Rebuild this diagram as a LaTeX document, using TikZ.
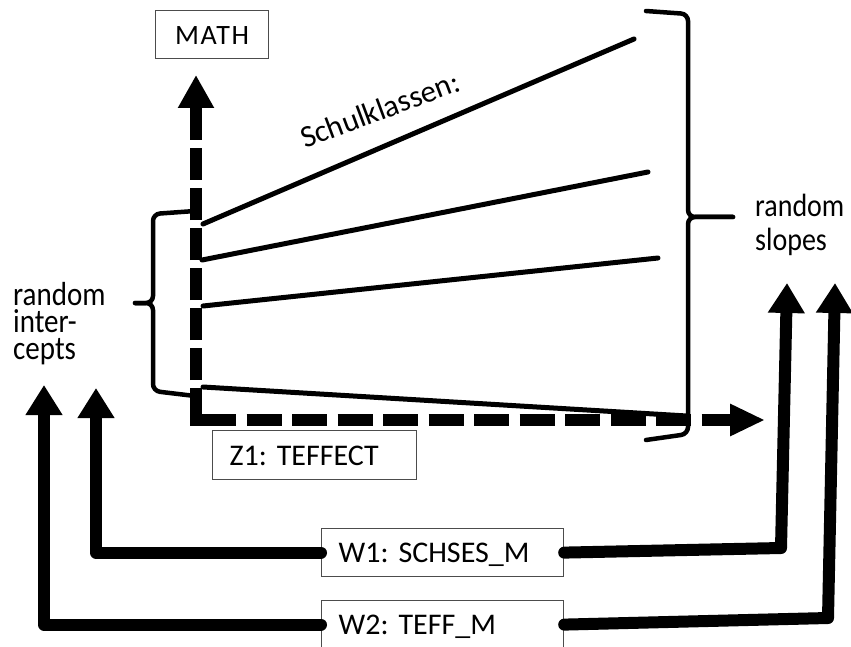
\documentclass[tikz,border=0pt]{standalone}
\usepackage{fontspec}
\usepackage{graphicx}
\setmainfont{Carlito}
\usetikzlibrary{arrows.meta}
\newcommand{\tallt}[1]{\scalebox{1}[1.15]{#1}}
\begin{document}
\frenchspacing
\begin{tikzpicture}[x=1pt,y=-1pt,
  fan/.style={line width=5pt, line cap=round},
  brace/.style={line width=4.5pt, rounded corners=7pt, line cap=round},
  conn/.style={line width=12pt, line join=round, line cap=round, -{Triangle[length=30pt,width=35pt]}},
  box/.style={draw=black!70, line width=1.2pt, rectangle, inner xsep=17pt, inner ysep=0pt,
    anchor=north west, align=left, text height=20pt, text depth=0pt,
    font=\fontsize{30}{36}\selectfont\frenchspacing},
  lbl/.style={font=\fontsize{29}{30}\selectfont, inner sep=0pt, anchor=base west}
]
\useasboundingbox (0,0) rectangle (851,647);
\fill[white] (0,0) rectangle (851,647);

% boxes
\node[box, minimum width=113pt, minimum height=48pt, align=center, inner xsep=0pt,
      text width=113pt, font=\fontsize{28}{34}\selectfont\addfontfeature{LetterSpace=6}] (math) at (155,10) {MATH};
\node[box, minimum width=204pt, minimum height=49pt, text width=170pt] (z1) at (212,430) {Z1: TEFFECT};
\node[box, minimum width=242pt, minimum height=48pt, text width=208pt] (w1) at (321,528) {W1: SCHSES\_M};
\node[box, minimum width=242pt, minimum height=48pt, text width=208pt] (w2) at (321,600) {W2: TEFF\_M};

% labels
\node[lbl] (ri1) at (13,305) {\tallt{random}};
\node[lbl] (ri2) at (13,332) {\tallt{inter-}};
\node[lbl] (ri3) at (13,359) {\tallt{cepts}};
\node[lbl, font=\fontsize{28}{30}\selectfont] (rs1) at (755,217) {\tallt{random}};
\node[lbl, font=\fontsize{28}{30}\selectfont] (rs2) at (755,250) {\tallt{slopes}};
\node[lbl, font=\fontsize{31}{34}\selectfont, rotate=20.5] (sk) at (305,149) {Schulklassen:};

% coordinates
\coordinate (origin) at (196,420);
\coordinate (mtip) at (196,75);
\coordinate (xtip) at (765,420);
\coordinate (ia1) at (96,388);
\coordinate (ia2) at (44,385);
\coordinate (rc1) at (781,548);
\coordinate (ra1) at (787,283);
\coordinate (rc2) at (828,618);
\coordinate (ra2) at (835,283);

% class lines
\draw[fan] (203,224) -- (634,39);
\draw[fan] (202,260) -- (648,172);
\draw[fan] (203,306) -- (658,258);
\draw[fan] (203,387) -- (687,416);

% dashed axes
\draw[line width=12pt, dash pattern=on 32pt off 8pt, -{Triangle[length=33pt,width=34pt]}] (origin) -- (mtip);
\draw[line width=12pt] ([xshift=-6pt]origin) -- ([xshift=5pt]origin);
\draw[line width=12pt, dash pattern=on 35pt off 10.5pt, -{Triangle[length=35pt,width=30pt]}] ([xshift=5pt]origin) -- (xtip);

% braces
\draw[brace] (195,211) -- (153,214) -- (153,303) -- (135,303);
\draw[brace] (135,303) -- (153,303) -- (153,391) -- (195,396);
\draw[brace] (646,11) -- (688,14) -- (688,217) -- (733,217);
\draw[brace] (733,217) -- (688,217) -- (688,434) -- (646,440);

% connectors
\draw[conn] (w1.west) -| (ia1);
\draw[conn] (w2.west) -| (ia2);
\draw[conn] (w1.east) -- (rc1) -- (ra1);
\draw[conn] (w2.east) -- (rc2) -- (ra2);
\end{tikzpicture}
\end{document}
